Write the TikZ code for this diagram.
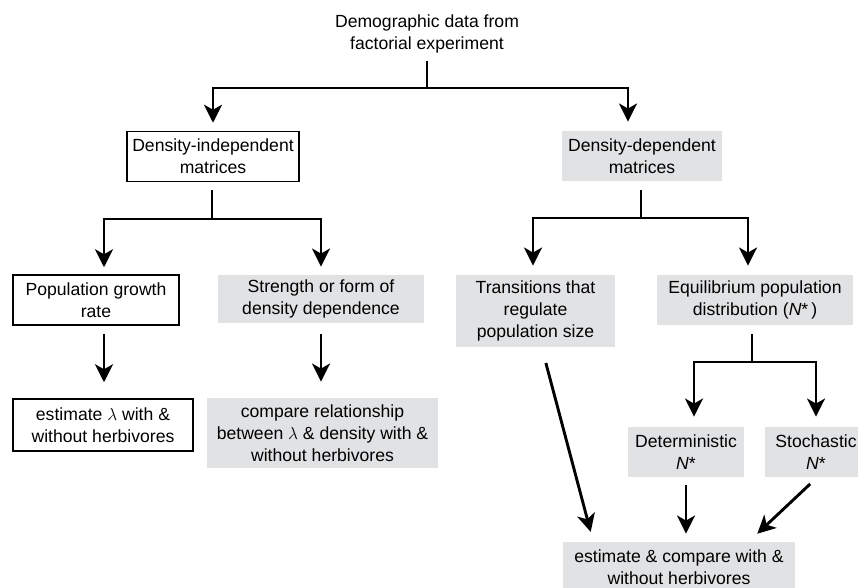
\documentclass[tikz,border=0pt]{standalone}
\usepackage{fontspec}
\setmainfont{Liberation Sans}
\usetikzlibrary{arrows.meta}
\definecolor{boxgrey}{RGB}{225,226,228}
\begin{document}
\begin{tikzpicture}[x=1pt, y=-1pt, line width=2.9pt, >={Stealth[length=18pt,width=18pt,inset=5pt]},
 every node/.style={font=\fontsize{17.6}{22}\selectfont, align=center, inner sep=0pt, minimum height=50pt},
 whitebox/.style={draw, line width=1.5pt, fill=white},
 greybox/.style={fill=boxgrey}]
 \useasboundingbox (0,0) rectangle (858,587);
 \node (data) at (427,34) [minimum height=0pt] {Demographic data from\\factorial experiment};
 \node (indep) at (213,156.5) [whitebox, minimum width=172pt] {Density-independent\\matrices};
 \node (dep) at (642,156) [greybox, minimum width=160pt] {Density-dependent\\matrices};
 \node (growth) at (96,300) [whitebox, minimum width=166pt] {Population growth\\rate};
 \node (form) at (321,299) [greybox, minimum width=206pt, minimum height=48pt] {Strength or form of\\density dependence};
 \node (regul) at (535.5,311) [greybox, minimum width=159pt, minimum height=72pt] {Transitions that\\regulate\\population size};
 \node (equil) at (755,300) [greybox, minimum width=196pt] {Equilibrium population\\distribution (\textit{N}*\,)};
 \node (lambda) at (103,425) [whitebox, minimum width=180pt, minimum height=52pt] {estimate $\lambda$ with \&\\without herbivores};
 \node (compare) at (322.5,433) [greybox, minimum width=231pt, minimum height=70pt] {compare relationship\\between $\lambda$ \& density with \&\\without herbivores};
 \node (determ) at (686,452) [greybox, minimum width=116pt] {Deterministic\\\textit{N}*};
 \node (stoch) at (816,452) [greybox, minimum width=102pt] {Stochastic\\\textit{N}*};
 \node (both) at (679,567) [greybox, minimum width=232pt] {estimate \& compare with \&\\without herbivores};
 % branch points
 \coordinate (top) at (427,88);
 \coordinate (left) at (212,219);
 \coordinate (right) at (641,218);
 \coordinate (split) at (752,362);
 \draw[shorten <=6pt] (data) -- (top);
 \draw[->, shorten >=8pt] (top) -| (indep);
 \draw[->, shorten >=8pt] (top) -| ([xshift=-14pt]dep.north);
 \draw[shorten <=8pt] ([xshift=-1pt]indep.south) -- (left);
 \draw[->, shorten >=7pt] (left) -| ([xshift=8pt]growth.north);
 \draw[->, shorten >=7pt] (left) -| (form);
 \draw[shorten <=8pt] ([xshift=-1pt]dep.south) -- (right);
 \draw[->, shorten >=8pt] (right) -| ([xshift=-2.5pt]regul.north);
 \draw[->, shorten >=8pt] (right) -| ([xshift=-7pt]equil.north);
 \draw[shorten <=8pt] ([xshift=-3pt]equil.south) -- (split);
 \draw[->, shorten >=9pt] (split) -| ([xshift=8pt]determ.north);
 \draw[->, shorten >=9pt] (split) -| (stoch);
 \draw[->, shorten <=8pt, shorten >=16pt] ([xshift=8pt]growth.south) -- ([xshift=1pt]lambda.north);
 \draw[->, shorten <=10pt, shorten >=15pt] (form.south) -- ([xshift=-1.5pt]compare.north);
 \draw[->, shorten <=15pt, shorten >=9pt] ([xshift=6.5pt]regul.south) -- ([xshift=-86pt]both.north);
 \draw[->, shorten <=7pt, shorten >=7pt] (determ) -- ([xshift=7pt]both.north);
 \draw[->, shorten <=8pt, shorten >=10pt] (stoch.south) -- ([xshift=71pt]both.north);
\end{tikzpicture}
\end{document}
